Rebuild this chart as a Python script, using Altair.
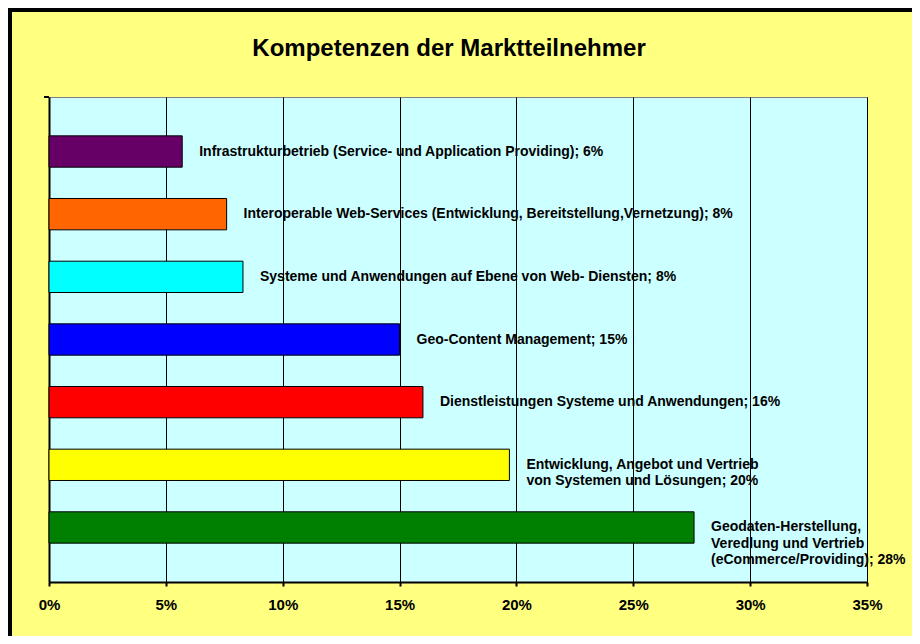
import altair as alt
import pandas as pd

title_text = "Kompetenzen der Marktteilnehmer"

categories = [
    "Infrastrukturbetrieb (Service- und Application Providing)",
    "Interoperable Web-Services (Entwicklung, Bereitstellung,Vernetzung)",
    "Systeme und Anwendungen auf Ebene von Web- Diensten",
    "Geo-Content Management",
    "Dienstleistungen Systeme und Anwendungen",
    "Entwicklung, Angebot und Vertrieb\nvon Systemen und Lösungen",
    "Geodaten-Herstellung,\nVeredlung und Vertrieb\n(eCommerce/Providing)",
]
values = [5.7, 7.6, 8.3, 15.0, 16.0, 19.7, 27.6]
value_labels = ["6%", "8%", "8%", "15%", "16%", "20%", "28%"]
colors = ["#660066", "#FF6600", "#00FFFF", "#0000FF", "#FF0000", "#FFFF00", "#008000"]
x_ticks = [0, 5, 10, 15, 20, 25, 30, 35]

df = pd.DataFrame({
    "idx": list(range(len(categories))),
    "cat": categories,
    "value": values,
    "label": [c + "; " + v for c, v in zip(categories, value_labels)],
})

FONT = "Liberation Sans"

y_enc = alt.Y(
    "idx:O",
    sort=None,
    scale=alt.Scale(paddingInner=0.5, paddingOuter=0.62),
    axis=alt.Axis(labels=False, ticks=False, title=None, domainColor="black",
                  domainWidth=2, grid=False),
)
x_enc = alt.X(
    "value:Q",
    scale=alt.Scale(domain=[0, 35], nice=False),
    axis=alt.Axis(values=x_ticks, labelExpr="datum.value + '%'", title=None,
                  grid=True, gridColor="black", gridWidth=1,
                  domainColor="black", domainWidth=2,
                  tickColor="black", tickWidth=2, tickSize=4,
                  labelFont=FONT, labelFontSize=15, labelFontWeight="bold",
                  labelColor="black", labelPadding=11, labelFlush=False),
)

bars = alt.Chart(df).mark_bar(stroke="black", strokeWidth=1).encode(
    y=y_enc,
    x=x_enc,
    color=alt.Color("idx:O", scale=alt.Scale(domain=list(range(len(categories))), range=colors), legend=None),
)

labels = alt.Chart(df).mark_text(
    align="left", baseline="middle", dx=17, font=FONT, fontSize=14,
    fontWeight="bold", color="black", lineBreak="\n", lineHeight=16.5,
).encode(
    y=alt.Y("idx:O", sort=None),
    x="value:Q",
    text="label:N",
)

title_df = pd.DataFrame({"t": [title_text]})
title_mark = alt.Chart(title_df).mark_text(
    font=FONT, fontSize=24, fontWeight="bold", color="black",
    align="center", baseline="alphabetic",
).encode(text="t:N", x=alt.value(400), y=alt.value(-41))

border_df = pd.DataFrame({"a": [0]})
top_border = alt.Chart(border_df).mark_rule(color="black", strokeWidth=4).encode(
    x=alt.value(-41), x2=alt.value(870), y=alt.value(-87)
)
left_border = alt.Chart(border_df).mark_rule(color="black", strokeWidth=4).encode(
    x=alt.value(-39), y=alt.value(-89), y2=alt.value(560)
)
y_top_tick = alt.Chart(border_df).mark_rule(color="black", strokeWidth=2).encode(
    x=alt.value(-5), x2=alt.value(0), y=alt.value(0)
)

chart = alt.layer(top_border, left_border, y_top_tick, title_mark, bars, labels).properties(
    width=818,
    height=485,
    background="#FFFF80",
    padding={"left": 41, "top": 89, "right": 45, "bottom": 54},
    autosize=alt.AutoSizeParams(type="none"),
).configure_view(
    fill="#CCFFFF", stroke="#808080", strokeWidth=1
)

chart.save("out.html", embed_options={"renderer": "svg", "actions": False})
